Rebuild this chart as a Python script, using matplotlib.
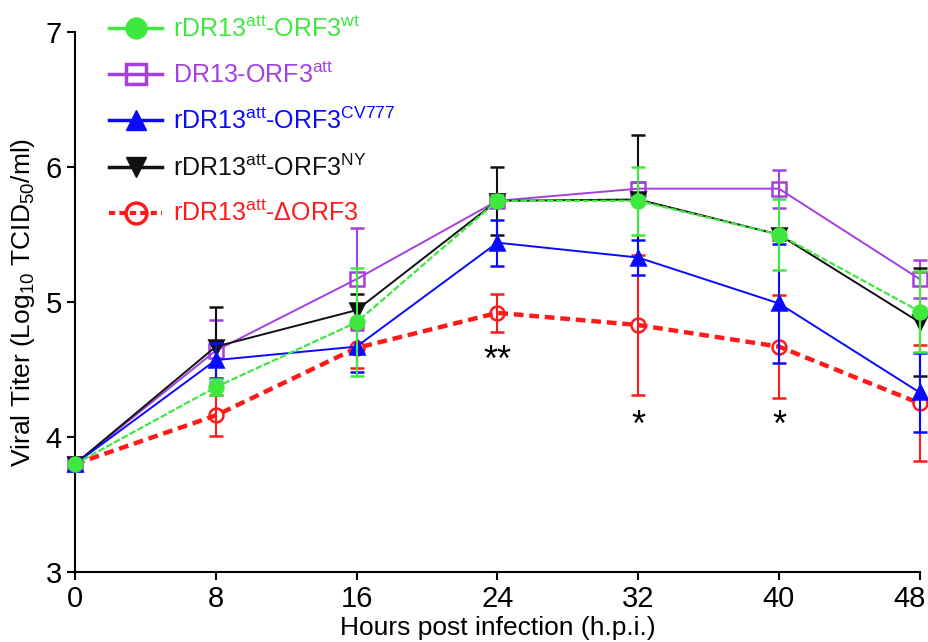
import matplotlib
matplotlib.use("Agg")
import matplotlib.pyplot as plt
from matplotlib.lines import Line2D
import matplotlib.transforms as mtransforms

plt.rcParams['font.family'] = ['Liberation Sans', 'DejaVu Sans']
plt.rcParams['mathtext.fontset'] = 'custom'
plt.rcParams['mathtext.rm'] = 'Liberation Sans'
plt.rcParams['mathtext.it'] = 'Liberation Sans'
plt.rcParams['mathtext.default'] = 'regular'

hours = [0, 8, 16, 24, 32, 40, 48]

wt_mean = [3.8, 4.37, 4.85, 5.75, 5.75, 5.50, 4.93]
wt_err = [0.0, 0.06, 0.40, 0.04, 0.25, 0.26, 0.30]

att_mean = [3.8, 4.64, 5.17, 5.75, 5.84, 5.84, 5.17]
att_err = [0.0, 0.23, 0.38, 0.03, 0.05, 0.14, 0.14]

cv_mean = [3.8, 4.57, 4.67, 5.44, 5.33, 4.99, 4.33]
cv_err = [0.0, 0.13, 0.19, 0.17, 0.13, 0.44, 0.29]

ny_mean = [3.8, 4.67, 4.94, 5.75, 5.76, 5.50, 4.85]
ny_err = [0.0, 0.29, 0.12, 0.25, 0.48, 0.04, 0.40]

d_mean = [3.8, 4.16, 4.66, 4.92, 4.83, 4.67, 4.25]
d_err = [0.0, 0.15, 0.15, 0.14, 0.52, 0.38, 0.43]

labels = [r'rDR13$^{att}$-ORF3$^{wt}$',
          r'DR13-ORF3$^{att}$',
          r'rDR13$^{att}$-ORF3$^{CV777}$',
          r'rDR13$^{att}$-ORF3$^{NY}$',
          r'rDR13$^{att}$-ΔORF3']

GREEN = '#3ee83e'
PURPLE = '#a43fe0'
BLUE = '#0a0aff'
BLACK = '#111111'
RED = '#ff1a1a'

sig_x = [24, 32, 40]
sig_y = [4.56, 4.08, 4.08]
sig_txt = ['**', '*', '*']

fig = plt.figure(figsize=(9.29, 6.42), dpi=100)
ax = fig.add_axes([0.0807, 0.109, 0.9093, 0.841])

common = dict(capsize=4.8, elinewidth=1.5, capthick=1.5, clip_on=False, markersize=10)

series = [
    (d_mean, d_err, RED, 'o', 'none', (0, (2.2, 1.3)), 3.2, 3),
    (att_mean, att_err, PURPLE, 's', 'none', '-', 1.4, 4),
    (ny_mean, ny_err, BLACK, 'v', BLACK, '-', 1.4, 5),
    (cv_mean, cv_err, BLUE, '^', BLUE, '-', 1.4, 6),
    (wt_mean, wt_err, GREEN, 'o', GREEN, (0, (3, 1)), 1.6, 7),
]
for mean, err, col, mk, mfc, ls, lw, z in series:
    eb = ax.errorbar(hours, mean, yerr=err, color=col, marker=mk, mfc=mfc,
                     mec=col, mew=1.8, ls=ls, lw=lw, zorder=z, **common)
    for c in eb[1]:
        c.set_clip_on(False)
    for b in eb[2]:
        b.set_clip_on(False)

for x, y, t in zip(sig_x, sig_y, sig_txt):
    ax.text(x, y, t, ha='center', va='center', fontsize=26, color='black')

ax.set_xlim(0, 48)
ax.set_ylim(3, 7)
ax.set_xticks(hours)
ax.set_yticks([3, 4, 5, 6, 7])
ax.tick_params(axis='both', labelsize=21, width=1.5, length=6, direction='out')
ax.spines['top'].set_visible(False)
ax.spines['right'].set_visible(False)
ax.spines['left'].set_linewidth(1.5)
ax.spines['bottom'].set_linewidth(1.5)
ax.set_xlabel('Hours post infection (h.p.i.)', fontsize=19, labelpad=2)
ax.set_ylabel('Viral Titer (Log$_{10}$ TCID$_{50}$/ml)', fontsize=19, labelpad=6)

# shift last x tick label left so it fits in the figure
last = ax.get_xticklabels()[-1]
last.set_transform(last.get_transform() + mtransforms.ScaledTranslation(-10 / 100, 0, fig.dpi_scale_trans))

handles = [
    Line2D([], [], color=GREEN, marker='o', mfc=GREEN, mec=GREEN, ms=15, lw=2.5),
    Line2D([], [], color=PURPLE, marker='s', mfc='none', mec=PURPLE, ms=15, mew=2.5, lw=2.5),
    Line2D([], [], color=BLUE, marker='^', mfc=BLUE, mec=BLUE, ms=15, lw=2.5),
    Line2D([], [], color=BLACK, marker='v', mfc=BLACK, mec=BLACK, ms=15, lw=2.5),
    Line2D([], [], color=RED, marker='o', mfc='none', mec=RED, ms=15, mew=2.5, lw=3, ls=(0, (1.5, 1))),
]
leg = fig.legend(handles, labels, loc='upper left', bbox_to_anchor=(0.107, 0.99),
                 frameon=False, fontsize=18, handlelength=2.1, handletextpad=0.45,
                 labelspacing=0.8, borderaxespad=0)
for txt, col in zip(leg.get_texts(), [GREEN, PURPLE, BLUE, BLACK, RED]):
    txt.set_color(col)

fig.savefig('out.png', dpi=100)
